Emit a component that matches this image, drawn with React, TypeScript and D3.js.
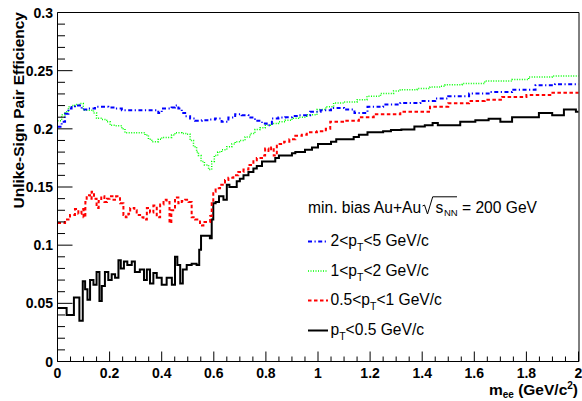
import React from "react";
import * as d3 from "d3";

// ---------- data (bin left edges in GeV/c^2, efficiency values) ----------
const blackMass = [0, 0.035, 0.063, 0.084, 0.097, 0.106, 0.115, 0.125, 0.138, 0.15, 0.161, 0.17, 0.182, 0.195, 0.208, 0.221, 0.234, 0.243, 0.255, 0.268, 0.285, 0.297, 0.316, 0.332, 0.343, 0.355, 0.368, 0.381, 0.4, 0.419, 0.439, 0.451, 0.46, 0.471, 0.481, 0.496, 0.515, 0.534, 0.544, 0.551, 0.585, 0.592, 0.598, 0.607, 0.62, 0.637, 0.65, 0.66, 0.688, 0.7, 0.714, 0.733, 0.752, 0.765, 0.785, 0.836, 0.85, 0.9, 0.913, 0.95, 0.977, 1.0, 1.05, 1.07, 1.137, 1.157, 1.19, 1.25, 1.28, 1.32, 1.37, 1.41, 1.44, 1.46, 1.546, 1.604, 1.655, 1.7, 1.745, 1.848, 1.899, 1.944, 1.99];
const blackEff = [0.046, 0.04, 0.055, 0.035, 0.069, 0.062, 0.053, 0.07, 0.066, 0.077, 0.052, 0.065, 0.077, 0.07, 0.075, 0.072, 0.087, 0.08, 0.086, 0.083, 0.086, 0.077, 0.079, 0.07, 0.079, 0.067, 0.076, 0.072, 0.066, 0.072, 0.066, 0.09, 0.083, 0.067, 0.079, 0.083, 0.084, 0.083, 0.096, 0.108, 0.106, 0.122, 0.136, 0.137, 0.142, 0.139, 0.152, 0.15, 0.155, 0.157, 0.16, 0.163, 0.166, 0.168, 0.172, 0.175, 0.177, 0.179, 0.18, 0.182, 0.184, 0.187, 0.189, 0.191, 0.193, 0.195, 0.197, 0.198, 0.199, 0.1995, 0.202, 0.203, 0.205, 0.203, 0.206, 0.2074, 0.2086, 0.206, 0.21, 0.2137, 0.2117, 0.2166, 0.2146];

const redMass = [0, 0.029, 0.048, 0.067, 0.08, 0.092, 0.1, 0.107, 0.112, 0.125, 0.131, 0.14, 0.15, 0.158, 0.168, 0.18, 0.19, 0.2, 0.215, 0.225, 0.24, 0.253, 0.262, 0.272, 0.279, 0.295, 0.304, 0.317, 0.33, 0.343, 0.355, 0.368, 0.381, 0.394, 0.407, 0.419, 0.43, 0.437, 0.451, 0.464, 0.477, 0.49, 0.503, 0.515, 0.528, 0.547, 0.56, 0.586, 0.592, 0.598, 0.607, 0.624, 0.643, 0.656, 0.675, 0.694, 0.714, 0.733, 0.752, 0.765, 0.785, 0.797, 0.81, 0.82, 0.83, 0.842, 0.87, 0.89, 0.913, 0.938, 0.957, 0.996, 1.03, 1.047, 1.1, 1.157, 1.214, 1.316, 1.43, 1.5, 1.58, 1.64, 1.707, 1.8, 1.9];
const redEff = [0.119, 0.122, 0.126, 0.131, 0.127, 0.131, 0.124, 0.137, 0.143, 0.14, 0.146, 0.14, 0.132, 0.138, 0.142, 0.137, 0.14, 0.142, 0.139, 0.142, 0.136, 0.126, 0.124, 0.127, 0.132, 0.13, 0.126, 0.124, 0.122, 0.132, 0.128, 0.134, 0.124, 0.135, 0.139, 0.137, 0.119, 0.13, 0.141, 0.136, 0.138, 0.139, 0.137, 0.124, 0.122, 0.117, 0.12, 0.125, 0.136, 0.146, 0.149, 0.152, 0.156, 0.158, 0.16, 0.163, 0.165, 0.169, 0.173, 0.175, 0.177, 0.183, 0.181, 0.184, 0.177, 0.187, 0.189, 0.191, 0.194, 0.195, 0.197, 0.198, 0.2, 0.206, 0.207, 0.21, 0.2126, 0.2146, 0.219, 0.222, 0.224, 0.225, 0.2274, 0.229, 0.231];

const greenMass = [0, 0.016, 0.029, 0.042, 0.054, 0.067, 0.086, 0.099, 0.138, 0.15, 0.17, 0.189, 0.202, 0.221, 0.247, 0.259, 0.336, 0.349, 0.362, 0.387, 0.4, 0.438, 0.451, 0.477, 0.496, 0.509, 0.522, 0.534, 0.541, 0.551, 0.564, 0.58, 0.592, 0.602, 0.615, 0.63, 0.65, 0.669, 0.682, 0.7, 0.72, 0.74, 0.758, 0.778, 0.797, 0.823, 0.848, 0.874, 0.9, 0.925, 0.957, 0.996, 1.03, 1.06, 1.1, 1.15, 1.188, 1.24, 1.29, 1.316, 1.38, 1.43, 1.47, 1.488, 1.553, 1.64, 1.745, 1.809, 1.899];
const greenEff = [0.207, 0.212, 0.2146, 0.219, 0.22, 0.221, 0.2217, 0.216, 0.2137, 0.209, 0.208, 0.206, 0.203, 0.2026, 0.2, 0.1966, 0.1946, 0.191, 0.189, 0.191, 0.1926, 0.1946, 0.1966, 0.196, 0.1954, 0.19, 0.1846, 0.18, 0.177, 0.172, 0.169, 0.165, 0.172, 0.177, 0.18, 0.182, 0.1846, 0.187, 0.189, 0.19, 0.193, 0.196, 0.1994, 0.201, 0.203, 0.2046, 0.206, 0.2074, 0.209, 0.21, 0.212, 0.2166, 0.219, 0.2223, 0.2231, 0.2251, 0.228, 0.2303, 0.2326, 0.2337, 0.2346, 0.236, 0.2366, 0.238, 0.2389, 0.2411, 0.2423, 0.2446, 0.2454];

const blueMass = [0, 0.016, 0.029, 0.042, 0.054, 0.067, 0.093, 0.118, 0.144, 0.195, 0.221, 0.247, 0.387, 0.4, 0.438, 0.451, 0.464, 0.477, 0.49, 0.509, 0.528, 0.554, 0.58, 0.605, 0.63, 0.656, 0.682, 0.707, 0.733, 0.758, 0.785, 0.803, 0.823, 0.848, 0.874, 0.9, 0.925, 0.97, 1.01, 1.05, 1.1, 1.14, 1.19, 1.25, 1.316, 1.393, 1.45, 1.5, 1.58, 1.655, 1.745, 1.835, 1.91];
const blueEff = [0.2017, 0.206, 0.213, 0.2174, 0.2194, 0.22, 0.2166, 0.2174, 0.2189, 0.2183, 0.2174, 0.216, 0.2137, 0.2174, 0.2183, 0.22, 0.2174, 0.2137, 0.2109, 0.2089, 0.2069, 0.2074, 0.208, 0.2089, 0.206, 0.2097, 0.2126, 0.2117, 0.2097, 0.2069, 0.2046, 0.2031, 0.2089, 0.2097, 0.21, 0.211, 0.2117, 0.2146, 0.216, 0.218, 0.2166, 0.2137, 0.2189, 0.2209, 0.2223, 0.224, 0.226, 0.228, 0.2303, 0.2317, 0.2337, 0.2374, 0.2383];

const xMajor = [0, 0.2, 0.4, 0.6, 0.8, 1, 1.2, 1.4, 1.6, 1.8, 2];
const xTickLabels = ["0", "0.2", "0.4", "0.6", "0.8", "1", "1.2", "1.4", "1.6", "1.8", "2"];
const yMajor = [0, 0.05, 0.1, 0.15, 0.2, 0.25, 0.3];
const yTickLabels = ["0", "0.05", "0.1", "0.15", "0.2", "0.25", "0.3"];

const legendLabels = [
  { pre: "2<p", post: "<5 GeV/c" },
  { pre: "1<p", post: "<2 GeV/c" },
  { pre: "0.5<p", post: "<1 GeV/c" },
  { pre: "p", post: "<0.5 GeV/c" },
];

const FONT = "'Liberation Sans', Arial, Helvetica, sans-serif";

export default function App() {
  const x = d3.scaleLinear().domain([0, 2]).range([57.5, 578.5]);
  const y = d3.scaleLinear().domain([0, 0.3]).range([361.5, 12.5]);
  const line = d3
    .line<[number, number]>()
    .x((d) => x(d[0]))
    .y((d) => y(d[1]))
    .curve(d3.curveStepAfter);
  const mk = (ms: number[], vs: number[]) => {
    const p: [number, number][] = ms.map((m, i) => [m, vs[i]]);
    p.push([2, vs[vs.length - 1]]);
    return p;
  };

  const series = [
    { ms: blackMass, vs: blackEff, color: "#000000", width: 2, dash: "none" },
    { ms: redMass, vs: redEff, color: "#ff0000", width: 2, dash: "3.5,2.5" },
    { ms: greenMass, vs: greenEff, color: "#00ff00", width: 1.5, dash: "1,1.5" },
    { ms: blueMass, vs: blueEff, color: "#0000ff", width: 2, dash: "4,2.5,1.2,2.5" },
  ];
  const legendStyles = [series[3], series[2], series[1], series[0]];

  const yMinor: number[] = [];
  for (let i = 0; i <= 30; i++) if (i % 5 !== 0) yMinor.push(i / 100);
  const xMinor: number[] = [];
  for (let i = 0; i <= 40; i++) if (i % 4 !== 0) xMinor.push(i * 0.05);

  const legendBase = [246, 275.5, 305, 335];

  return (
    <svg
      width={582}
      height={401}
      style={{ position: "absolute", left: 0, top: 0, background: "#fff" }}
      fontFamily={FONT}
    >
      <rect x={0} y={0} width={582} height={401} fill="#fff" />
      {/* data */}
      <g fill="none">
        {series.map((s, i) => (
          <path
            key={i}
            d={line(mk(s.ms, s.vs)) || ""}
            stroke={s.color}
            strokeWidth={s.width}
            strokeDasharray={s.dash}
          />
        ))}
      </g>
      {/* frame */}
      <line x1={57.5} x2={579} y1={12.5} y2={12.5} stroke="#000" />
      <line x1={579} x2={579} y1={12.5} y2={361.5} stroke="#000" />
      <line x1={57.5} x2={57.5} y1={12.5} y2={361.5} stroke="#000" />
      <line x1={57.5} x2={579} y1={361.5} y2={361.5} stroke="#000" />
      {/* y ticks */}
      {yMajor.map((v, i) => (
        <g key={"ym" + i}>
          <line x1={57.5} x2={72.5} y1={y(v)} y2={y(v)} stroke="#000" />
          <text x={53} y={y(v) + 5} textAnchor="end" fontSize={14} fontWeight="bold">
            {yTickLabels[i]}
          </text>
        </g>
      ))}
      {yMinor.map((v, i) => (
        <line key={"yn" + i} x1={57.5} x2={65} y1={y(v)} y2={y(v)} stroke="#000" />
      ))}
      {/* x ticks */}
      {xMajor.map((v, i) => (
        <g key={"xm" + i}>
          <line x1={x(v)} x2={x(v)} y1={361.5} y2={351.5} stroke="#000" />
          <text x={x(v)} y={378} textAnchor="middle" fontSize={14} fontWeight="bold">
            {xTickLabels[i]}
          </text>
        </g>
      ))}
      {xMinor.map((v, i) => (
        <line key={"xn" + i} x1={x(v)} x2={x(v)} y1={361.5} y2={356.5} stroke="#000" />
      ))}
      {/* axis titles */}
      <text
        transform="translate(24,12) rotate(-90)"
        textAnchor="end"
        fontSize={15.5}
        fontWeight="bold"
      >
        Unlike-Sign Pair Efficiency
      </text>
      <text x={578} y={394.5} textAnchor="end" fontSize={15.5} fontWeight="bold">
        m
        <tspan fontSize={10} dy={3}>ee</tspan>
        <tspan dy={-3}> (GeV/c</tspan>
        <tspan fontSize={10} dy={-5.5}>2</tspan>
        <tspan dy={5.5}>)</tspan>
      </text>
      {/* legend */}
      <text x={308} y={212.5} fontSize={15.6}>min. bias Au+Au</text>
      <path
        d="M422.5,206 L424.5,205 L427.5,214 L432.7,196.8 L457,196.8"
        fill="none"
        stroke="#000"
        strokeWidth={1}
      />
      <text x={435.5} y={212.5} fontSize={15.6}>s</text>
      <text x={444} y={216} fontSize={9.5}>NN</text>
      <text x={462} y={212.5} fontSize={15.6}>= 200 GeV</text>
      {legendLabels.map((l, i) => (
        <g key={"lg" + i}>
          <line
            x1={308}
            x2={328}
            y1={legendBase[i] - 4.5}
            y2={legendBase[i] - 4.5}
            stroke={legendStyles[i].color}
            strokeWidth={legendStyles[i].width}
            strokeDasharray={legendStyles[i].dash}
          />
          <text x={330.5} y={legendBase[i]} fontSize={15.6}>
            {l.pre}
            <tspan fontSize={10.5} dy={5}>T</tspan>
            <tspan dy={-5}>{l.post}</tspan>
          </text>
        </g>
      ))}
    </svg>
  );
}
